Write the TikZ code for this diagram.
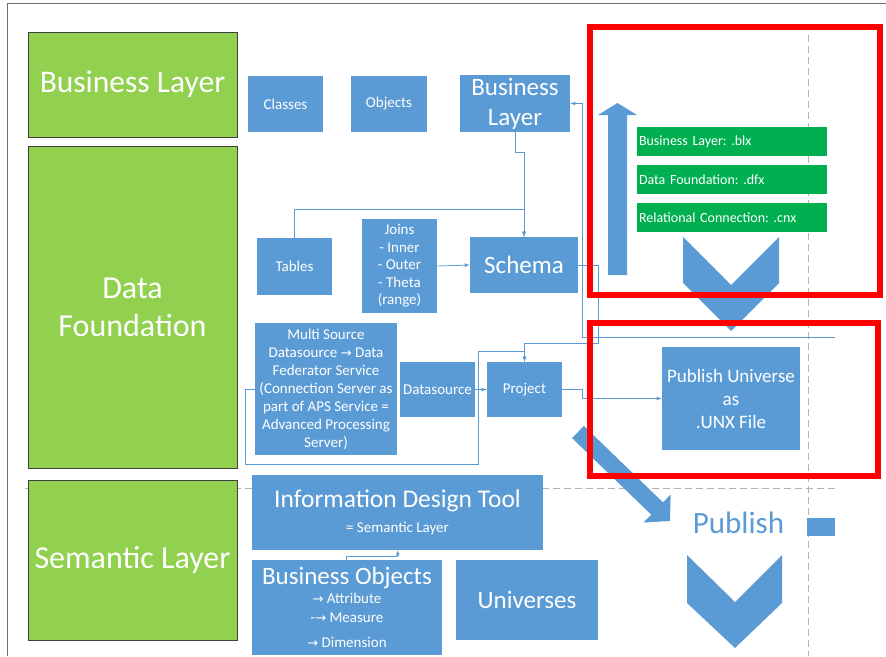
\documentclass[tikz,border=0pt]{standalone}
\usepackage{fontspec}
\setmainfont{Carlito}
\newfontfamily\arrowfont{DejaVu Sans}
\usetikzlibrary{arrows,arrows.meta}
\definecolor{Office-Blue}{RGB}{91,155,213}
\definecolor{Office-Lime}{RGB}{146,208,80}
\definecolor{Office-Green}{RGB}{0,176,80}
\definecolor{Frame-Gray}{RGB}{110,110,110}
\newcommand{\setfs}[2]{\fontsize{#1}{#2}\selectfont}
\newcommand{\rarr}{{\arrowfont\setfs{13}{15}→}}
\frenchspacing

\tikzset{
  layerbox/.style={draw=black!75, line width=0.8pt, fill=Office-Lime, text=white, align=center, inner sep=0pt, font=\setfs{31.5}{38}},
  bluebox/.style={fill=Office-Blue, text=white, align=center, inner sep=1pt, font=\setfs{15}{17}},
  filebox/.style={fill=Office-Green, text=white, align=left, inner sep=2pt, minimum height=29pt, text width=186pt, font=\setfs{14}{15}},
  conn/.style={draw=Office-Blue, line width=0.8pt},
  markbox/.style={draw=red, line width=6pt},
  guide/.style={draw=black!30, line width=0.8pt, dash pattern=on 7pt off 4pt},
}

\begin{document}
\begin{tikzpicture}[x=1pt, y=-1pt, >=latex]
    \useasboundingbox (0,0) rectangle (886,656);
    \draw[Frame-Gray, line width=0.8pt] (7,656) -- (7,3) -- (886,3);

    % guides
    \draw[guide] (808,35) -- (808,656);
    \draw[guide] (25,488) -- (835,488);

    % layers
    \node[layerbox, minimum width=209pt, minimum height=105pt] (lay_bl) at (132.5, 84.5) {Business Layer};
    \node[layerbox, minimum width=209pt, minimum height=322pt, font=\setfs{32}{38}] (lay_df) at (132.5, 307) {Data\\Foundation};
    \node[layerbox, minimum width=209pt, minimum height=160pt, font=\setfs{32}{38}] (lay_sl) at (132.5, 560) {Semantic Layer};

    % business layer
    \node[bluebox, minimum width=75pt, minimum height=56pt] (classes) at (285.5, 104) {Classes};
    \node[bluebox, minimum width=76pt, minimum height=56pt] (objects) at (389, 104) {Objects};
    \node[bluebox, minimum width=110pt, minimum height=57pt, font=\setfs{25}{30}] (blayer) at (515, 103.5) {Business\\Layer};

    % data foundation
    \node[bluebox, minimum width=75pt, minimum height=57pt] (tables) at (294.5, 266.5) {Tables};
    \node[bluebox, minimum width=75pt, minimum height=94pt, font=\setfs{15}{17.5}] (joins) at (399.5, 266) {Joins\\- Inner\\- Outer\\- Theta\\(range)};
    \node[bluebox, minimum width=108pt, minimum height=56pt, font=\setfs{25}{30}] (schema) at (524, 265) {Schema};
    \node[bluebox, minimum width=142pt, minimum height=132pt, font=\setfs{15}{18}] (multi) at (326, 389) {Multi Source\\Datasource \rarr{} Data\\Federator Service\\(Connection Server as\\part of APS Service =\\Advanced Processing\\Server)};
    \node[bluebox, minimum width=75pt, minimum height=55pt] (dsrc) at (437.5, 389.5) {Datasource};
    \node[bluebox, minimum width=75pt, minimum height=55pt] (proj) at (524.5, 389.5) {Project};
    \node[bluebox, minimum width=138pt, minimum height=103pt, font=\setfs{19}{23}] (pub) at (731, 398.5) {Publish Universe\\as\\.UNX File};

    % semantic layer
    \node[bluebox, minimum width=291pt, minimum height=75pt] (idt) at (397.5, 512.5) {{\setfs{25.5}{28}Information Design Tool}\\[8pt]= Semantic Layer};
    \node[bluebox, minimum width=190pt, minimum height=95pt, font=\setfs{15}{19}] (bobj) at (347, 607.5) {{\setfs{25}{26}Business Objects}\\\rarr{} Attribute\\-\rarr{} Measure\\[6pt]\rarr{} Dimension};
    \node[bluebox, minimum width=142pt, minimum height=80pt, font=\setfs{25}{28}] (univ) at (527, 600) {Universes};

    % files
    \node[filebox] (f_blx) at (732, 141.5) {Business Layer: .blx};
    \node[filebox] (f_dfx) at (732, 179.5) {Data Foundation: .dfx};
    \node[filebox] (f_cnx) at (732, 217.5) {Relational Connection: .cnx};

    % block arrows
    \fill[Office-Blue] (608,275) -- (608,115) -- (598,115) -- (617.5,103) -- (637,115) -- (627,115) -- (627,275) -- cycle;
    \fill[Office-Blue] (683,237) -- (731,285) -- (779,237) -- (779,283) -- (731,331) -- (683,283) -- cycle;
    \fill[Office-Blue] (687,555) -- (735,602) -- (782,555) -- (782,603) -- (735,648) -- (687,603) -- cycle;
    \draw[Office-Blue, line width=17pt, -{Triangle[length=18pt, width=38pt]}] (578,432) -- (670,521);
    \node[text=Office-Blue, font=\setfs{31}{34}, inner sep=0pt] (publish) at (738.5, 523) {Publish};
    \fill[Office-Blue] (807,518) rectangle (835,536);

    % connectors
    \coordinate (bl_return) at (835,337);
    \draw[conn, ->] (tables.north) |- (524,209) -- (schema.north);
    \draw[conn, ->] (blayer.south) -- ++(0,20) -| (schema.north);
    \draw[conn, ->] (joins.east) -- (schema.west);
    \draw[conn, ->] (schema.east) -- (598,265) |- (524.5,343) -- (proj.north);
    \draw[conn, ->] (bl_return) -| (582,103.5) -- (blayer.east);
    \draw[conn, ->] (multi.west) -| (245,464) -| (478,351) -| (proj.north);
    \draw[conn, ->] (dsrc.east) -- (proj.west);
    \draw[conn, ->] (proj.east) -- (582,389.5) |- (pub.west);
    \draw[conn, ->] ([xshift=95pt]bobj.north west) |- ([xshift=146pt, yshift=-6pt]idt.south west) -- ([xshift=146pt]idt.south west);

    % highlight
    \draw[markbox] (590,27) rectangle (880,295);
    \draw[markbox] (590,323) rectangle (878,476);
\end{tikzpicture}
\end{document}
